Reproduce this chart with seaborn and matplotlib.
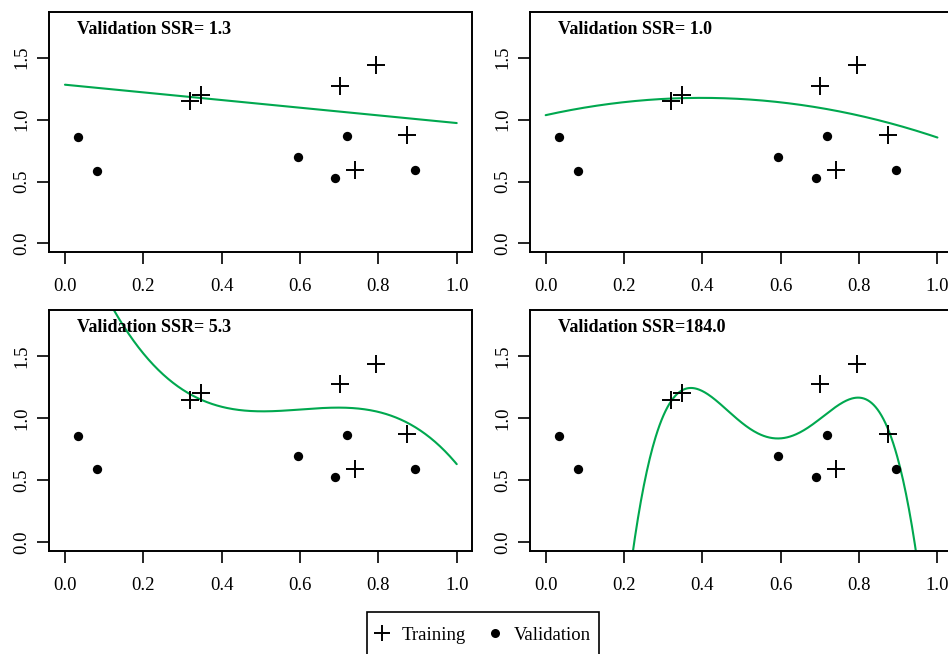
import numpy as np
import pandas as pd
import matplotlib
matplotlib.use("Agg")
import matplotlib.pyplot as plt
from matplotlib.lines import Line2D
from matplotlib.patches import Rectangle
import seaborn as sns

# Training and validation samples
train_x = [0.319, 0.348, 0.701, 0.740, 0.795, 0.873]
train_y = [1.150, 1.199, 1.272, 0.590, 1.439, 0.873]
valid_x = [0.033, 0.082, 0.594, 0.690, 0.719, 0.894]
valid_y = [0.859, 0.587, 0.698, 0.528, 0.865, 0.593]

# Polynomial degree fitted in each panel and its validation error label
degrees = [1, 2, 3, 4]
ssr_labels = ["Validation SSR= 1.3", "Validation SSR= 1.0",
              "Validation SSR= 5.3", "Validation SSR=184.0"]

x_ticks = [0.0, 0.2, 0.4, 0.6, 0.8, 1.0]
y_ticks = [0.0, 0.5, 1.0, 1.5]

sns.set_theme(style="white")
plt.rcParams["font.family"] = ["Liberation Serif", "DejaVu Serif"]
plt.rcParams["text.color"] = "black"

W, H = 948, 654
fig = plt.figure(figsize=(W / 100, H / 100), dpi=100)

# panel boxes in pixels: (left, top, right, bottom)
boxes = [(49.3, 11.7, 472.4, 252.3), (530.0, 11.7, 953.1, 252.3),
         (49.3, 310.0, 472.4, 551.0), (530.0, 310.0, 953.1, 551.0)]

train_df = pd.DataFrame({"x": train_x, "y": train_y})
valid_df = pd.DataFrame({"x": valid_x, "y": valid_y})
grid = np.linspace(0, 1, 400)
green = "#00A84F"

for (l, t, r, b), deg, label in zip(boxes, degrees, ssr_labels):
    ax = fig.add_axes([l / W, 1 - b / H, (r - l) / W, (b - t) / H])
    coefs = np.polyfit(train_x, train_y, deg)
    curve = pd.DataFrame({"x": grid, "y": np.polyval(coefs, grid)})
    sns.lineplot(data=curve, x="x", y="y", ax=ax, color=green, lw=1.5,
                 sort=False, zorder=2)
    sns.scatterplot(data=train_df, x="x", y="y", ax=ax, marker="+", s=150,
                    color="black", linewidth=1.4, zorder=3)
    sns.scatterplot(data=valid_df, x="x", y="y", ax=ax, marker="o", s=45,
                    color="black", edgecolor="black", linewidth=0, zorder=3)
    ax.set_xlim(-0.04, 1.04)
    ax.set_ylim(-0.072, 1.872)
    ax.set_xticks(x_ticks)
    ax.set_xticklabels([f"{v:.1f}" for v in x_ticks])
    ax.set_yticks(y_ticks)
    ax.set_yticklabels([f"{v:.1f}" for v in y_ticks], rotation=90, va="center")
    ax.set_xlabel("")
    ax.set_ylabel("")
    ax.tick_params(axis="both", direction="out", length=8.4, width=1.2,
                   color="black", labelsize=13.5, labelcolor="black",
                   bottom=True, left=True)
    ax.tick_params(axis="x", pad=10)
    ax.tick_params(axis="y", pad=5)
    for sp in ax.spines.values():
        sp.set_visible(True)
        sp.set_color("black")
        sp.set_linewidth(1.4)
    ax.text(0.0655, 0.927, label, transform=ax.transAxes, fontsize=13,
            fontweight="bold", ha="left", va="center", color="black")

# legend frame running off the bottom edge
fig.patches.append(Rectangle((367 / W, 1 - 660 / H), (599 - 367) / W, 48 / H,
                             transform=fig.transFigure, fill=False,
                             edgecolor="black", linewidth=1.2))
handles = [
    Line2D([], [], marker="+", color="black", ls="none", markersize=12,
           markeredgewidth=1.4, label="Training"),
    Line2D([], [], marker="o", color="black", ls="none", markersize=6.5,
           markeredgewidth=0, label="Validation"),
]
fig.legend(handles=handles, loc="center left",
           bbox_to_anchor=(373 / W, 1 - 635 / H), ncol=2, frameon=False,
           fontsize=13.5, borderpad=0, handlelength=1.0, handletextpad=0.5,
           columnspacing=1.1, borderaxespad=0, labelcolor="black")

fig.savefig("out.png", dpi=100)
